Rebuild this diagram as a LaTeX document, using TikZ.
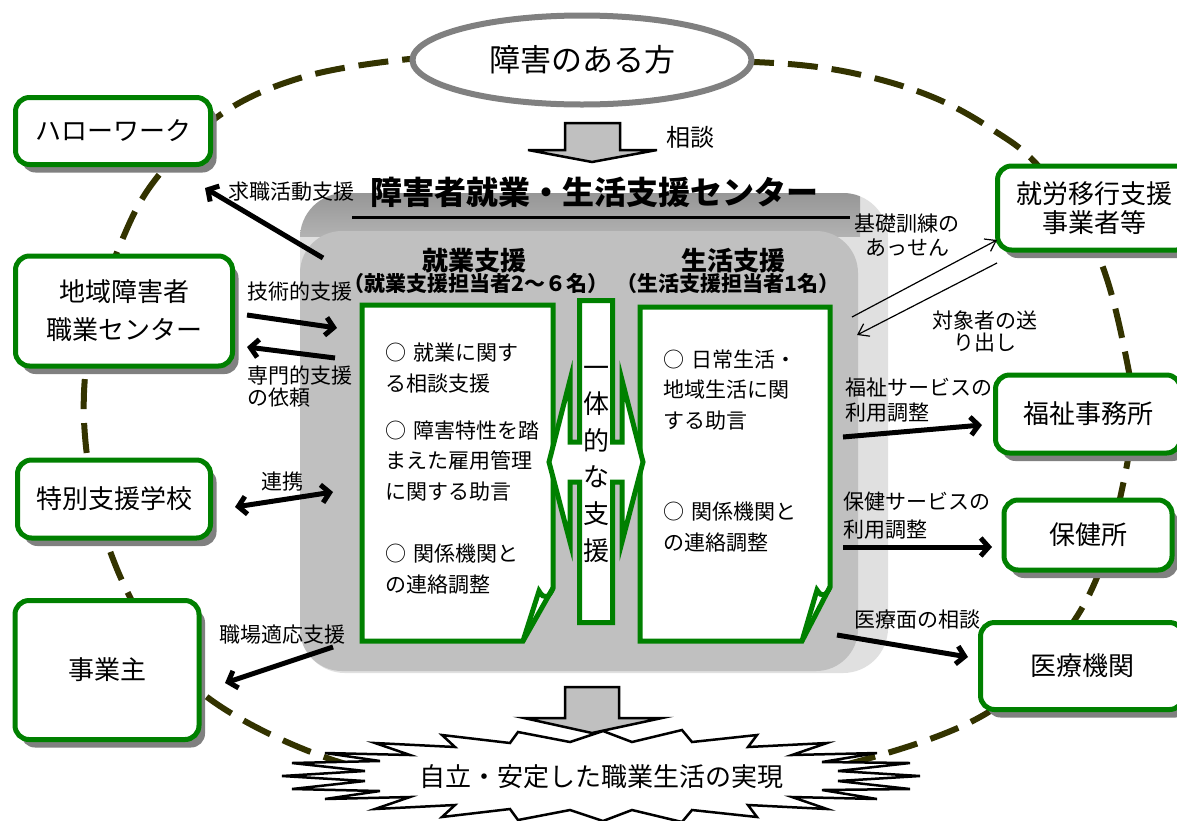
\documentclass[tikz,border=0pt]{standalone}
\usepackage{fontspec}
\setmainfont{Noto Sans CJK JP}
\usepackage{tikz}
\usetikzlibrary{shapes.geometric}
\usetikzlibrary{shadows}
\usetikzlibrary{arrows.meta}
\definecolor{frame}{RGB}{0,128,0}
\definecolor{loopcol}{RGB}{51,51,0}
\definecolor{shade}{RGB}{128,128,128}
\definecolor{face}{RGB}{192,192,192}
\definecolor{bandtop}{RGB}{150,150,150}
\definecolor{bandbot}{RGB}{178,178,178}
\definecolor{side}{RGB}{224,224,224}
\newcommand{\mk}{○\hspace{7pt}}

\begin{document}
\begin{tikzpicture}[x=1pt,y=-1pt,
  orgbox/.style={draw=frame, line width=5pt, fill=white, rounded corners=14pt, inner sep=0pt, align=center,
    font=\fontsize{26}{36}\selectfont, drop shadow={shadow xshift=6pt, shadow yshift=-8pt, fill=shade, opacity=1}},
  card/.style={draw=frame, line width=5pt, fill=white, line join=miter},
  lbl/.style={inner sep=0pt, font=\fontsize{21}{24}\selectfont},
  txt/.style={inner sep=0pt, align=left, anchor=west, font=\fontsize{21}{30.5}\selectfont},
  arr/.style={line width=5pt, -{Straight Barb[length=8pt,width=18pt]}},
  thinarr/.style={line width=1.2pt, -{Straight Barb[length=10pt,width=14pt]}},
  blockarrow/.style={draw=black, line width=2.5pt, fill=face, line join=miter},
]
\fill[white] (0,0) rectangle (1177,820);
\useasboundingbox (0,0) rectangle (1177,820);

%loop
\draw[loopcol, line width=6pt, dash pattern=on 30pt off 14pt] plot[smooth cycle, tension=0.6] coordinates {
  (585,57) (700,60) (800,65) (870,77) (935,98) (990,128) (1040,168) (1098,255) (1128,367) (1131,420)
  (1125,475) (1100,570) (1060,640) (987,713) (863,760) (730,785) (600,792) (470,785) (333,760) (207,697)
  (140,615) (100,520) (84,420) (92,330) (120,245) (155,180) (220,115) (300,78) (400,60) (480,57)};

%center
\fill[side, rounded corners=45pt] (300,193) rectangle (888,673);
\begin{scope}
\clip[rounded corners=45pt] (300,193) rectangle (888,673);
\shade[top color=bandtop, bottom color=bandbot] (300,193) rectangle (860,236);
\end{scope}
\fill[face, rounded corners=42pt] (300,231) rectangle (858,671);

%title
\node[font=\fontsize{32}{32}\selectfont\bfseries, inner sep=0pt] (title) at (594,192) {障害者就業・生活支援センター};
\draw[line width=3pt] (352,217) -- (850,217);

%heads
\node[font=\fontsize{26}{26}\selectfont\bfseries, inner sep=0pt] (jhead) at (474,261) {就業支援};
\node[font=\fontsize{21}{21}\selectfont\bfseries, inner sep=0pt] (jsub) at (476,284) {（就業支援担当者2～６名）};
\node[font=\fontsize{26}{26}\selectfont\bfseries, inner sep=0pt] (shead) at (733,261) {生活支援};
\node[font=\fontsize{21}{21}\selectfont\bfseries, inner sep=0pt] (ssub) at (728,284) {（生活支援担当者1名）};

%left card
\draw[card] (362,305) -- (553,305) -- (553,588) -- (523,641) -- (362,641) -- cycle;
\draw[card, fill=none] (523,641) -- (539,591) .. controls (544,600) and (549,598) .. (553,588);
%right card
\draw[card] (640,307) -- (830,307) -- (830,587) -- (802,641) -- (640,641) -- cycle;
\draw[card, fill=none] (802,641) -- (817,590) .. controls (822,598) and (826,596) .. (830,587);

%bar
\draw[card] (579.5,300.5) -- (612.5,300.5) -- (612.5,442) -- (622,442) -- (622,380) -- (643,462)
  -- (622,542) -- (622,482) -- (612.5,482) -- (612.5,622.5) -- (579.5,622.5) -- (579.5,482)
  -- (570,482) -- (570,542) -- (549,462) -- (570,380) -- (570,442) -- (579.5,442) -- cycle;
\node[font=\fontsize{26}{36.6}\selectfont, align=center, inner sep=0pt] (unity) at (596,464) {一\\体\\的\\な\\支\\援};

%card texts
\node[txt] (j1) at (385,368) {\mk 就業に関す\\る相談支援};
\node[txt] (j2) at (385,461) {\mk 障害特性を踏\\まえた雇用管理\\に関する助言};
\node[txt] (j3) at (385,569) {\mk 関係機関と\\の連絡調整};
\node[txt] (s1) at (663,390) {\mk 日常生活・\\地域生活に関\\する助言};
\node[txt] (s2) at (663,527) {\mk 関係機関と\\の連絡調整};

%boxes
\node[orgbox, minimum width=195pt, minimum height=67pt] (hw) at (113,131) {ハローワーク};
\node[orgbox, minimum width=217pt, minimum height=110pt, font=\fontsize{26}{38}\selectfont] (voc) at (124,311) {地域障害者\\職業センター};
\node[orgbox, minimum width=193pt, minimum height=78pt] (school) at (114,499) {特別支援学校};
\node[orgbox, minimum width=184pt, minimum height=139pt] (emp) at (107,670) {事業主};
\node[orgbox, minimum width=193pt, minimum height=84pt, font=\fontsize{26}{29}\selectfont] (trans) at (1094,208) {就労移行支援\\事業者等};
\node[orgbox, minimum width=185pt, minimum height=78pt] (welfare) at (1088,414) {福祉事務所};
\node[orgbox, minimum width=168pt, minimum height=70pt] (health) at (1088,535) {保健所};
\node[orgbox, minimum width=203pt, minimum height=87pt] (med) at (1082,666) {医療機関};

%person
\node[ellipse, draw=shade, line width=6pt, fill=white, minimum width=339pt, minimum height=89pt, inner sep=0pt,
  font=\fontsize{31}{31}\selectfont] (person) at (582,60) {障害のある方};
\draw[blockarrow] (565,123) -- (620,123) -- (620,150) -- (657,150) -- (592,162) -- (528,150) -- (565,150) -- cycle;
\node[font=\fontsize{24}{24}\selectfont, inner sep=0pt] (ask) at (690,137) {相談};

%goal
\draw[line width=2.5pt, fill=white, line join=miter] (282,776) -- (365,771) -- (292,763) -- (380,761) -- (325,753)
  -- (410,755) -- (375,743) -- (455,747) -- (442,735) -- (510,743) -- (518,732) -- (570,742) -- (603,731)
  -- (632,742) -- (682,730) -- (692,742) -- (757,735) -- (748,747) -- (827,743) -- (792,755) -- (877,753)
  -- (822,762) -- (910,763) -- (838,771) -- (920,776) -- (838,781) -- (910,789) -- (822,790) -- (877,799)
  -- (792,797) -- (827,809) -- (748,805) -- (757,817) -- (692,810) -- (682,822) -- (632,810) -- (603,821)
  -- (570,810) -- (518,820) -- (510,809) -- (442,817) -- (455,805) -- (375,809) -- (410,797) -- (325,799)
  -- (380,791) -- (292,789) -- (365,781) -- cycle;
\node[font=\fontsize{26}{26}\selectfont, inner sep=0pt] (goal) at (601,777) {自立・安定した職業生活の実現};
\draw[blockarrow] (565,687) -- (619,687) -- (619,718) -- (662,718) -- (592,733) -- (524,718) -- (565,718) -- cycle;

%labels
\node[lbl] (l1) at (291,192) {求職活動支援};
\node[lbl] (l2) at (300,292) {技術的支援};
\node[lbl, align=left, anchor=west, font=\fontsize{21}{22}\selectfont] (l3) at (247,387) {専門的支援\\の依頼};
\node[lbl] (l4) at (282,482) {連携};
\node[lbl] (l5) at (282,635) {職場適応支援};
\node[lbl, align=center] (r1) at (907,235) {基礎訓練の\\あっせん};
\node[lbl, align=center, font=\fontsize{21}{22}\selectfont] (r2) at (985,331) {対象者の送\\り出し};
\node[lbl, align=left, anchor=west, font=\fontsize{21}{25}\selectfont] (r3) at (845,400) {福祉サービスの\\利用調整};
\node[lbl, align=left, anchor=west, font=\fontsize{21}{28}\selectfont] (r4) at (843,516) {保健サービスの\\利用調整};
\node[lbl] (r5) at (917,620) {医療面の相談};

%arrows
\coordinate (a1s) at (323,258); \coordinate (a1e) at (205,188);
\coordinate (a2s) at (247,315); \coordinate (a2e) at (337,328);
\coordinate (a3s) at (335,358); \coordinate (a3e) at (247,347);
\coordinate (a4s) at (235,507); \coordinate (a4e) at (333,492);
\coordinate (a5s) at (333,647); \coordinate (a5e) at (225,683);
\coordinate (a6s) at (852,317); \coordinate (a6e) at (997,240);
\coordinate (a7s) at (997,263); \coordinate (a7e) at (857,335);
\coordinate (a8s) at (843,437); \coordinate (a8e) at (982,425);
\coordinate (a9s) at (843,547); \coordinate (a9e) at (992,547);
\coordinate (a10s) at (837,635); \coordinate (a10e) at (968,657);
\draw[arr] (a1s) -- (a1e);
\draw[arr] (a2s) -- (a2e);
\draw[arr] (a3s) -- (a3e);
\draw[arr, {Straight Barb[length=8pt,width=18pt]}-{Straight Barb[length=8pt,width=18pt]}] (a4s) -- (a4e);
\draw[arr] (a5s) -- (a5e);
\draw[thinarr] (a6s) -- (a6e);
\draw[thinarr] (a7s) -- (a7e);
\draw[arr] (a8s) -- (a8e);
\draw[arr] (a9s) -- (a9e);
\draw[arr] (a10s) -- (a10e);

\end{tikzpicture}
\end{document}
